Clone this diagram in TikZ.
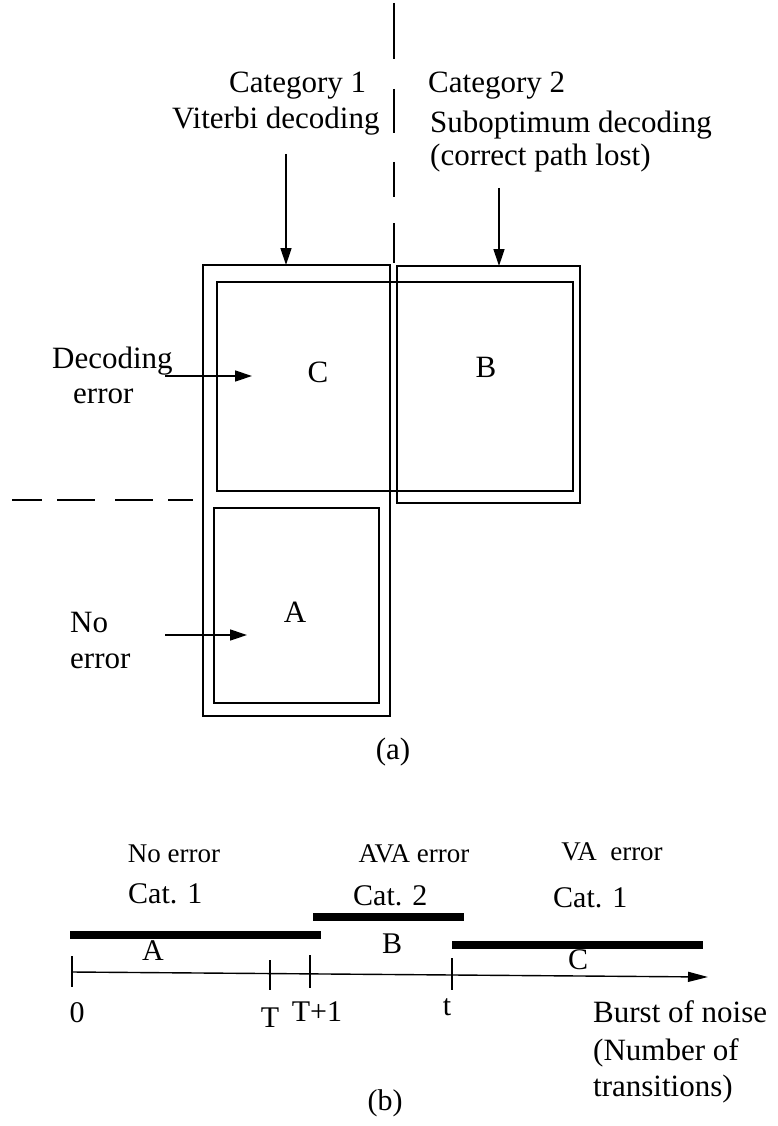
\documentclass[tikz,border=0pt]{standalone}
\usepackage{fontspec}
\setmainfont{Liberation Serif}
\usetikzlibrary{arrows.meta}
\begin{document}
\begin{tikzpicture}[x=1pt,y=-1pt,
  box/.style={draw, line width=1.6pt, inner sep=0pt, outer sep=0pt, anchor=north west},
  lbl/.style={inner sep=0pt, font=\fontsize{31}{37}\selectfont},
  blbl/.style={inner sep=0pt, font=\fontsize{30}{36}\selectfont},
  slbl/.style={inner sep=0pt, font=\fontsize{27}{32}\selectfont},
  arr/.style={line width=1.4pt, -{Triangle[length=17pt,width=11pt]}},
  axarr/.style={line width=1.4pt, -{Triangle[length=20pt,width=10pt]}},
  bar/.style={line width=8pt},
  tickl/.style={line width=1.4pt},
  dline/.style={line width=1.3pt},
]
\useasboundingbox (0,0) rectangle (778,1126);

% ---------- part (a) ----------
% vertical dashed separator
\coordinate (vtop) at (394,3);
\coordinate (vbot) at (394,263);
\draw[dline, dash pattern=on 56pt off 30pt on 44pt off 29pt on 35pt off 26pt on 40pt off 10pt] (vtop) -- (vbot);
% horizontal dashed separator
\coordinate (htl) at (12,500);
\coordinate (htr) at (193,500);
\draw[dline, dash pattern=on 30pt off 15pt on 38pt off 20pt on 38pt off 15pt on 25pt off 10pt] (htl) -- (htr);

% boxes
\node[box, minimum width=187pt, minimum height=451pt] (col) at (203,265) {};
\node[box, minimum width=183pt, minimum height=237pt] (bout) at (397,266) {};
\node[box, minimum width=356pt, minimum height=209pt] (inner) at (217,282) {};
\node[box, minimum width=165pt, minimum height=195pt] (abox) at (214,508) {};

% labels
\node[lbl, anchor=base west] (cat1) at (229,93) {Category 1};
\node[lbl, anchor=base west] (vit) at (172,129) {Viterbi decoding};
\node[lbl, anchor=base west] (cat2) at (428,93) {Category 2};
\node[lbl, anchor=base west] (sub) at (430,133) {Suboptimum decoding};
\node[lbl, anchor=base west] (cpl) at (430,166) {(correct path lost)};
\node[lbl, anchor=base west] (dec) at (52,368) {Decoding};
\node[lbl, anchor=base west] (err1) at (73,403) {error};
\node[lbl, anchor=base west] (no) at (70,632) {No};
\node[lbl, anchor=base west] (err2) at (70,668) {error};
\node[lbl] (C) at (318,372) {C};
\node[lbl] (B) at (486,367) {B};
\node[lbl] (A) at (295,612) {A};
\node[lbl] (capa) at (393,752) {(a)};

% arrows
\coordinate (a1s) at (286,154);
\draw[arr] (a1s) -- (a1s |- col.north);
\coordinate (a2s) at (499,188);
\draw[arr] (a2s) -- (a2s |- bout.north);
\coordinate (d1) at (165,376);
\coordinate (d2) at (252,376);
\draw[arr] (d1) -- (d2);
\coordinate (n1) at (165,635);
\coordinate (n2) at (247,635);
\draw[arr] (n1) -- (n2);

% ---------- part (b) ----------
\node[slbl, anchor=base] (noerr) at (174,862) {No error};
\node[slbl, anchor=base] (ava) at (414,862) {AVA error};
\node[slbl, anchor=base] (va) at (612,860) {VA\ \ error};
\node[blbl, anchor=base west] (c1) at (128,903) {Cat. 1};
\node[blbl, anchor=base west] (c2) at (353,905) {Cat. 2};
\node[blbl, anchor=base west] (c3) at (553,907) {Cat. 1};

% bars
\draw[bar] (70,935) -- (321,935);
\draw[bar] (313,917) -- (464,917);
\draw[bar] (452,945) -- (703,945);

\node[blbl] (bA) at (153,951) {A};
\node[blbl] (bB) at (392,944) {B};
\node[blbl] (bC) at (578,960) {C};

% axis
\coordinate (ax0) at (72,972);
\coordinate (ax1) at (708,977);
\draw[axarr] (ax0) -- (ax1);
\draw[tickl] (72,956) -- (72,987);
\draw[tickl] (270,960) -- (270,990);
\draw[tickl] (310,955) -- (310,988);
\draw[tickl] (452,958) -- (452,990);

\node[blbl] (l0) at (77,1013) {0};
\node[blbl] (lT) at (270,1018) {T};
\node[blbl] (lT1) at (317,1012) {T+1};
\node[blbl] (lt) at (447,1007) {t};
\node[blbl] (capb) at (385,1103) {(b)};

\node[lbl, anchor=base west] (bn1) at (593,1022) {Burst of noise};
\node[lbl, anchor=base west] (bn2) at (593,1060) {(Number of};
\node[lbl, anchor=base west] (bn3) at (593,1096) {transitions)};
\end{tikzpicture}
\end{document}
